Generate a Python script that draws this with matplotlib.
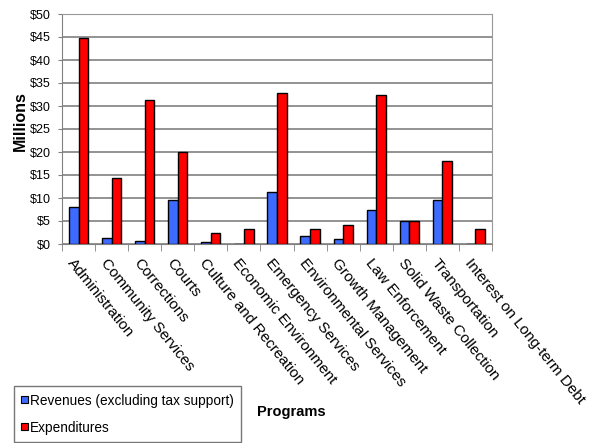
import matplotlib
matplotlib.use("Agg")
import matplotlib.pyplot as plt
import numpy as np
import matplotlib.transforms as mtrans
from matplotlib.patches import Patch

plt.rcParams['font.family'] = ['Liberation Sans', 'DejaVu Sans']

categories = ["Administration", "Community Services", "Corrections", "Courts",
              "Culture and Recreation", "Economic Environment", "Emergency Services",
              "Environmental Services", "Growth Management", "Law Enforcement",
              "Solid Waste Collection", "Transportation", "Interest on Long-term Debt"]
revenues = [8.0, 1.2, 0.7, 9.6, 0.35, 0.0, 11.4, 1.7, 1.1, 7.3, 4.9, 9.5, 0.0]
expenditures = [44.7, 14.4, 31.4, 19.9, 2.3, 3.2, 32.9, 3.2, 4.2, 32.4, 5.1, 18.0, 3.2]
yticks = [0, 5, 10, 15, 20, 25, 30, 35, 40, 45, 50]

fig = plt.figure(figsize=(5.99, 4.43), dpi=100)
ax = fig.add_axes([62/599, 1-244/443, (492-62)/599, (244-14)/443])

x = np.arange(len(categories))
w = 0.29
ax.bar(x - w/2, revenues, w, color='#3d6bff', edgecolor='black', linewidth=1.0, zorder=3)
ax.bar(x + w/2, expenditures, w, color='#ff0000', edgecolor='black', linewidth=1.0, zorder=3)

ax.set_xlim(-0.5, len(categories) - 0.5)
ax.set_ylim(0, 50)
ax.set_yticks(yticks)
ax.set_yticklabels([f"${v}" for v in yticks], fontsize=9)
ax.yaxis.grid(True, color='#808080', linewidth=1.2, zorder=0)
ax.set_axisbelow(True)
for s in ['top', 'right']:
    ax.spines[s].set_color('#999999')
ax.spines['left'].set_color('#808080')
ax.spines['bottom'].set_color('#808080')
ax.tick_params(axis='y', length=3, color='#808080', pad=5)

ax.set_xticks(np.arange(len(categories) + 1) - 0.5, minor=True)
ax.set_xticks(x)
ax.tick_params(axis='x', which='minor', length=5, color='#808080')
ax.tick_params(axis='x', which='major', length=0, pad=9)
ax.set_xticklabels(categories, rotation=-51, ha='left', va='top',
                   rotation_mode='anchor', fontsize=11)
offset = mtrans.ScaledTranslation(-3/100, 0, fig.dpi_scale_trans)
for lbl in ax.get_xticklabels():
    lbl.set_transform(lbl.get_transform() + offset)

fig.text(20/599, 1-121/443, "Millions", fontsize=11.5, fontweight='bold',
         rotation=90, ha='center', va='center')

handles = [Patch(facecolor='#3d6bff', edgecolor='black', linewidth=0.8),
           Patch(facecolor='#ff0000', edgecolor='black', linewidth=0.8)]
leg = fig.legend(handles, ["Revenues (excluding tax support)", "Expenditures"],
                 loc='lower left', bbox_to_anchor=(14/599, 1-442/443),
                 fontsize=9.8, frameon=True, fancybox=False, handlelength=0.45,
                 handleheight=0.45, handletextpad=0.15, borderpad=0.55,
                 borderaxespad=0, labelspacing=0.95, edgecolor='#555555')
leg.get_frame().set_linewidth(1.0)

fig.text(257/599, 1-412/443, "Programs", fontsize=10.5, fontweight='bold',
         ha='left', va='center')

fig.savefig("out.png", dpi=100, facecolor='white')
